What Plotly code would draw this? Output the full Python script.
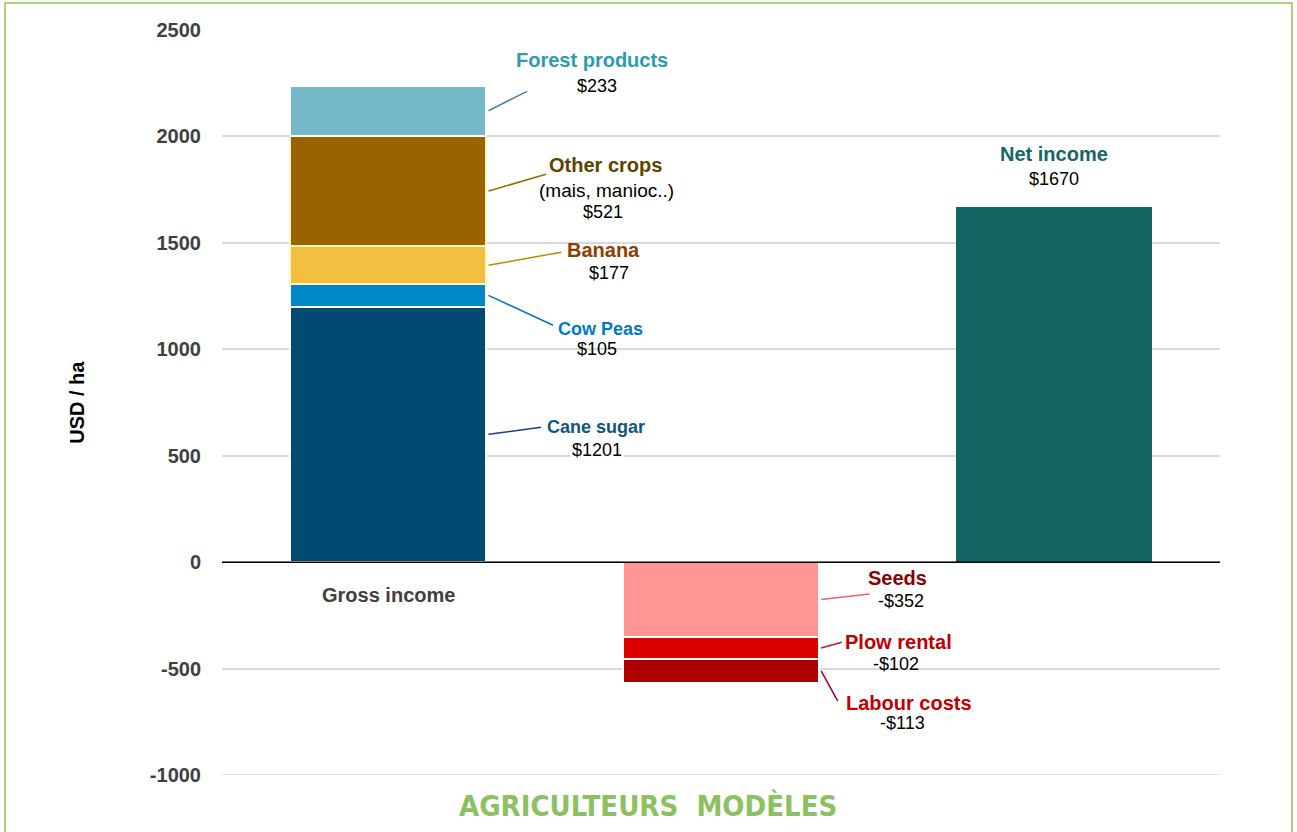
import plotly.graph_objects as go

# ---- data (USD / ha) ----
categories = ["Gross income", "Costs", "Net income"]

income_items = ["Cane sugar", "Cow Peas", "Banana", "Other crops", "Forest products"]
income_values = [1201, 105, 177, 521, 233]
income_colors = ["#004A73", "#0089C6", "#F3BF41", "#996300", "#76B9C9"]
income_edges = ["#FFFFFF", "#FFFFFF", "#FFF6C2", "#FFF6C2", "#FFFFFF"]
income_text_colors = ["#0F5580", "#0077C8", "#8B4000", "#5C4300", "#2E9BB0"]
income_leader_colors = ["#1F3C8F", "#0077C8", "#C08A00", "#9B6B00", "#4A7FA0"]

cost_items = ["Seeds", "Plow rental", "Labour costs"]
cost_values = [-352, -102, -113]
cost_colors = ["#FF9595", "#DD0000", "#AD0000"]
cost_text_colors = ["#8B0000", "#C00000", "#C00000"]
cost_leader_colors = ["#F06070", "#D0102A", "#A00030"]

net_income = sum(income_values) + sum(cost_values)
net_color = "#166565"

y_ticks = [-1000, -500, 0, 500, 1000, 1500, 2000, 2500]

# label placement: (name x, name y, value x, value y, leader end x, leader end y, name size)
income_label_pos = [
    (0.625, 634, 0.628, 526, 0.459, 634, 18),
    (0.637, 1094, 0.628, 1000, 0.495, 1113, 18),
    (0.646, 1465, 0.664, 1357, 0.520, 1456, 20),
    (0.652, 1865, 0.646, 1644, 0.474, 1822, 20),
    (0.613, 2358, 0.628, 2236, 0.417, 2212, 20),
]
cost_label_pos = [
    (1.532, -75, 1.541, -183, 1.447, -150),
    (1.535, -376, 1.526, -479, 1.363, -376),
    (1.565, -662, 1.547, -756, 1.351, -653),
]

BAR_WIDTH = 0.59
FONT = "Liberation Sans, Arial, sans-serif"

fig = go.Figure()

for name, val, col, edge in zip(income_items, income_values, income_colors, income_edges):
    fig.add_trace(go.Bar(
        x=[categories[0]], y=[val], name=name, width=BAR_WIDTH,
        marker=dict(color=col, line=dict(color=edge, width=2)),
    ))
for name, val, col in zip(cost_items, cost_values, cost_colors):
    fig.add_trace(go.Bar(
        x=[categories[1]], y=[val], name=name, width=BAR_WIDTH,
        marker=dict(color=col, line=dict(color="#FFFFFF", width=2)),
    ))
fig.add_trace(go.Bar(
    x=[categories[2]], y=[net_income], name="Net income", width=BAR_WIDTH,
    marker=dict(color=net_color, line=dict(color=net_color, width=0)),
))

annotations = []
shapes = []

# bottom gridline (plotly hides the one sitting on the range edge)
shapes.append(dict(type="line", xref="paper", yref="y", x0=0, x1=1,
                   y0=y_ticks[0], y1=y_ticks[0],
                   line=dict(color="#D9D9D9", width=1.5), layer="below"))

# income labels with leader lines from the middle of each segment
base = 0
for i, (name, val) in enumerate(zip(income_items, income_values)):
    nx, ny, vx, vy, lx, ly, fs = income_label_pos[i]
    mid = base + val / 2
    base += val
    shapes.append(dict(type="line", xref="x", yref="y",
                       x0=BAR_WIDTH / 2 + 0.006, y0=mid, x1=lx, y1=ly,
                       line=dict(color=income_leader_colors[i], width=1.5)))
    annotations.append(dict(x=nx, y=ny, xref="x", yref="y", showarrow=False,
                            text=f"<b>{name}</b>",
                            font=dict(family=FONT, size=fs, color=income_text_colors[i])))
    if name == "Other crops":
        annotations.append(dict(x=0.655, y=1747, xref="x", yref="y", showarrow=False,
                                text="(mais, manioc..)",
                                font=dict(family=FONT, size=19, color="#000000")))
    annotations.append(dict(x=vx, y=vy, xref="x", yref="y", showarrow=False,
                            text=f"${val}",
                            bgcolor="#FFFFFF" if name == "Cane sugar" else None,
                            font=dict(family=FONT, size=18, color="#000000")))

base = 0
for i, (name, val) in enumerate(zip(cost_items, cost_values)):
    nx, ny, vx, vy, lx, ly = cost_label_pos[i]
    mid = base + val / 2
    base += val
    shapes.append(dict(type="line", xref="x", yref="y",
                       x0=1 + BAR_WIDTH / 2 + 0.006, y0=mid, x1=lx, y1=ly,
                       line=dict(color=cost_leader_colors[i], width=1.5)))
    annotations.append(dict(x=nx, y=ny, xref="x", yref="y", showarrow=False,
                            text=f"<b>{name}</b>",
                            font=dict(family=FONT, size=20, color=cost_text_colors[i])))
    annotations.append(dict(x=vx, y=vy, xref="x", yref="y", showarrow=False,
                            text=f"-${abs(val)}",
                            font=dict(family=FONT, size=18, color="#000000")))

# net income label above its bar
annotations.append(dict(x=2, y=net_income, xref="x", yref="y", showarrow=False,
                        yanchor="bottom", yshift=40, text="<b>Net income</b>",
                        font=dict(family=FONT, size=20, color=net_color)))
annotations.append(dict(x=2, y=net_income, xref="x", yref="y", showarrow=False,
                        yanchor="bottom", yshift=16, text=f"${net_income}",
                        font=dict(family=FONT, size=18, color="#000000")))

# category label sitting under the zero line
annotations.append(dict(x=0, y=0, xref="x", yref="y", showarrow=False,
                        yanchor="top", yshift=-20, text="<b>Gross income</b>",
                        font=dict(family=FONT, size=20, color="#404040")))

# axis title and chart title
annotations.append(dict(x=-0.146, y=0.5, xref="paper", yref="paper", showarrow=False,
                        xanchor="center", yanchor="middle",
                        textangle=-90, text="<b>USD / ha</b>",
                        font=dict(family=FONT, size=20, color="#000000")))
annotations.append(dict(x=0.427, y=-0.0416, xref="paper", yref="paper", showarrow=False,
                        xanchor="center", yanchor="middle",
                        text="<b>AGRICULTEURS  MODÈLES</b>",
                        font=dict(family="DejaVu Sans Condensed, Liberation Sans Narrow, sans-serif",
                                  size=29, color="#8BC160")))

# zero line and outer frame
shapes.append(dict(type="line", xref="paper", yref="y", x0=0, x1=1, y0=0, y1=0,
                   line=dict(color="#000000", width=1.5), layer="above"))
shapes.append(dict(type="rect", xref="paper", yref="paper",
                   x0=-0.2174, x1=1.0721, y0=-0.12, y1=1.0362,
                   line=dict(color="#92C35A", width=1.5)))

fig.update_layout(
    width=1297, height=832,
    margin=dict(l=222, r=77, t=30, b=57),
    barmode="relative",
    bargap=0,
    showlegend=False,
    plot_bgcolor="#FFFFFF",
    paper_bgcolor="#FFFFFF",
    annotations=annotations,
    shapes=shapes,
    xaxis=dict(categoryorder="array", categoryarray=categories, range=[-0.5, 2.5],
               showticklabels=False, showgrid=False, zeroline=False, showline=False),
    yaxis=dict(range=[-1000, 2500], tickvals=y_ticks, ticktext=[str(v) for v in y_ticks],
               showgrid=True, gridcolor="#D9D9D9", gridwidth=1.5, zeroline=False,
               showline=False, ticks="", ticklabelstandoff=20,
               tickfont=dict(family=FONT, size=20, color="#404040", weight="bold")),
)

fig.write_html("out.html")
